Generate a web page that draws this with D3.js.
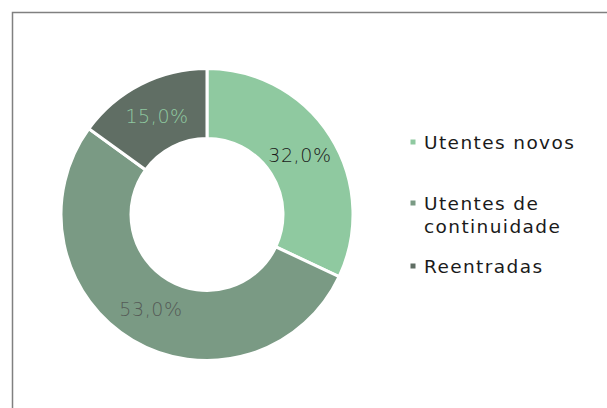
<!DOCTYPE html>
<html>
<head>
<meta charset="utf-8">
<script src="https://cdn.jsdelivr.net/npm/d3@7"></script>
<style>
	body { margin: 0; background: #fff; }
	svg { display: block; font-family: "DejaVu Sans", sans-serif; }
</style>
</head>
<body>
<div id="chart"></div>
<script>

// chart data
var categories = ["Utentes novos", "Utentes de continuidade", "Reentradas"];
var values = [32.0, 53.0, 15.0];
var legendLines = [["Utentes novos"], ["Utentes de", "continuidade"], ["Reentradas"]];

var colors = ["#8fc9a0", "#7a9a84", "#606e64"];
var labelColors = ["#1a1a1a", "#555b57", "#8fc9a0"];

var width = 607, height = 408;
var cx = 207, cy = 214.5,
	outerR = 146, innerR = 76, labelR = 110;

var svg = d3.select("#chart").append("svg")
	.attr("width", width)
	.attr("height", height);

// frame (runs off the right / bottom edge)
svg.append("path")
	.attr("d", "M12.5," + (height + 5) + "V12.5H" + (width + 5))
	.attr("fill", "none")
	.attr("stroke", "#808080")
	.attr("stroke-width", 1.5);

var pie = d3.pie().sort(null).value(function(d){ return d; });
var arcs = pie(values);

var arc = d3.arc().innerRadius(innerR).outerRadius(outerR);
var labelArc = d3.arc().innerRadius(labelR).outerRadius(labelR);

var g = svg.append("g")
	.attr("transform", "translate(" + cx + "," + cy + ")");

// slices
g.selectAll("path.slice")
	.data(arcs).enter()
	.append("path")
		.attr("class", "slice")
		.attr("d", arc)
		.attr("fill", function(d,i){ return colors[i] })
		.attr("stroke", "#fff")
		.attr("stroke-width", 3);

// percent labels
var fmt = function(v){ return v.toFixed(1).replace(".", ",") + "%" };

g.selectAll("text.pct")
	.data(arcs).enter()
	.append("text")
		.attr("class", "pct")
		.attr("transform", function(d){ return "translate(" + labelArc.centroid(d) + ")" })
		.attr("text-anchor", "middle")
		.attr("dy", "0.36em")
		.style("font-size", "19px")
		.style("font-weight", 200)
		.style("letter-spacing", "0.6px")
		.attr("fill", function(d,i){ return labelColors[i] })
		.text(function(d){ return fmt(d.data) });

// legend
var legendY = [142, 203, 266];
var legendX = 413;

var legend = svg.selectAll("g.legend")
	.data(categories).enter()
	.append("g")
		.attr("class", "legend")
		.attr("transform", function(d,i){ return "translate(" + legendX + "," + legendY[i] + ")" });

legend.append("rect")
	.attr("x", -2.5)
	.attr("y", -2.5)
	.attr("width", 5)
	.attr("height", 5)
	.attr("fill", function(d,i){ return colors[i] });

legend.append("text")
	.attr("x", 11)
	.attr("y", 0)
	.style("font-size", "18.5px")
	.style("letter-spacing", "1.4px")
	.attr("fill", "#1a1a1a")
	.selectAll("tspan")
	.data(function(d,i){ return legendLines[i] })
	.enter().append("tspan")
		.attr("x", 11)
		.attr("dy", function(d,j){ return j == 0 ? "0.36em" : "1.24em" })
		.text(function(d){ return d });

</script>
</body>
</html>
